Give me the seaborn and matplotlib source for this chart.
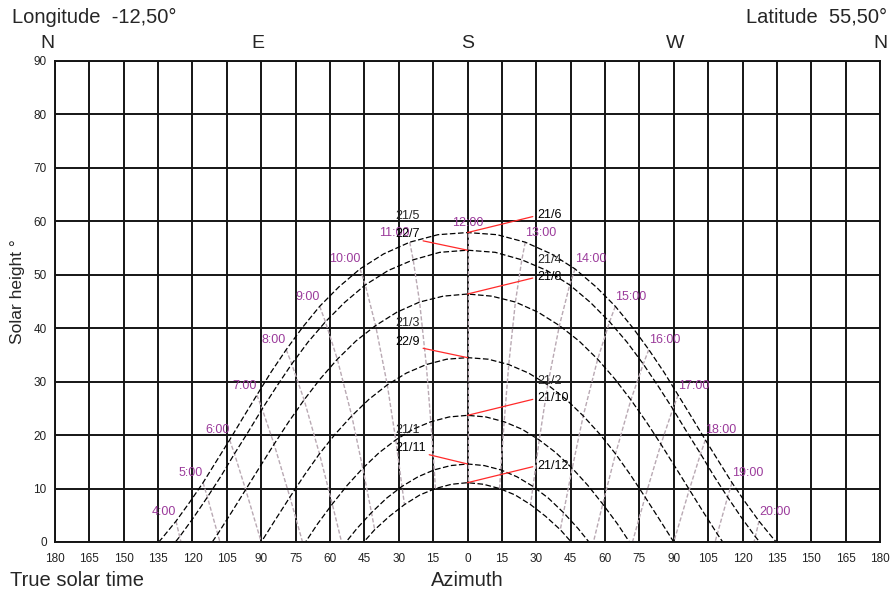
import numpy as np
import pandas as pd
import matplotlib
matplotlib.use("Agg")
import matplotlib.pyplot as plt
import matplotlib.transforms as mtransforms
import seaborn as sns

# ---------------- data ----------------
# sun path per date: azimuth (0 = south, negative = east) and solar height,
# every half hour of true solar time starting at *_t0
jun21_t0 = 3.0
jun21_az = [-139.5, -133.3, -127.2, -121.3, -115.4, -109.6, -103.8, -97.9, -91.9, -85.7,
            -79.1, -72.1, -64.5, -56.2, -46.9, -36.6, -25.2, -12.9, 0.0,
            12.9, 25.2, 36.6, 46.9, 56.2, 64.5, 72.1, 79.1, 85.7, 91.9,
            97.9, 103.8, 109.6, 115.4, 121.3, 127.2, 133.3, 139.5]
jun21_el = [-2.3, 0.7, 3.9, 7.4, 11.1, 15.1, 19.1, 23.3, 27.5, 31.8,
            36.0, 40.1, 44.1, 47.7, 51.1, 53.9, 56.1, 57.5, 57.9,
            57.5, 56.1, 53.9, 51.1, 47.7, 44.1, 40.1, 36.0, 31.8, 27.5,
            23.3, 19.1, 15.1, 11.1, 7.4, 3.9, 0.7, -2.3]

may21_t0 = 3.5
may21_az = [-131.8, -125.6, -119.5, -113.5, -107.6, -101.7, -95.7, -89.6, -83.3,
            -76.7, -69.6, -62.0, -53.7, -44.6, -34.6, -23.7, -12.1, 0.0,
            12.1, 23.7, 34.6, 44.6, 53.7, 62.0, 69.6, 76.7, 83.3,
            89.6, 95.7, 101.7, 107.6, 113.5, 119.5, 125.6, 131.8]
may21_el = [-2.3, 1.0, 4.6, 8.4, 12.3, 16.5, 20.6, 24.9, 29.1,
            33.3, 37.4, 41.2, 44.8, 48.1, 50.8, 52.8, 54.2, 54.6,
            54.2, 52.8, 50.8, 48.1, 44.8, 41.2, 37.4, 33.3, 29.1,
            24.9, 20.6, 16.5, 12.3, 8.4, 4.6, 1.0, -2.3]

apr21_t0 = 4.0
apr21_az = [-121.5, -115.2, -109.0, -102.9, -96.8, -90.7, -84.4, -78.0, -71.3,
            -64.3, -56.8, -48.7, -40.1, -30.8, -20.9, -10.6, 0.0,
            10.6, 20.9, 30.8, 40.1, 48.7, 56.8, 64.3,
            71.3, 78.0, 84.4, 90.7, 96.8, 102.9, 109.0, 115.2, 121.5]
apr21_el = [-6.2, -2.4, 1.5, 5.6, 9.8, 14.0, 18.3, 22.5, 26.6,
            30.5, 34.2, 37.6, 40.5, 43.0, 44.9, 46.0, 46.4,
            46.0, 44.9, 43.0, 40.5, 37.6, 34.2, 30.5,
            26.6, 22.5, 18.3, 14.0, 9.8, 5.6, 1.5, -2.4, -6.2]

mar21_t0 = 5.0
mar21_az = [-102.5, -96.2, -90.0, -83.8, -77.5, -71.2, -64.6, -57.7, -50.5, -43.0,
            -35.0, -26.7, -18.0, -9.1, 0.0, 9.1, 18.0, 26.7, 35.0,
            43.0, 50.5, 57.7, 64.6, 71.2, 77.5, 83.8, 90.0, 96.2, 102.5]
mar21_el = [-8.4, -4.2, 0.0, 4.2, 8.4, 12.5, 16.5, 20.2, 23.6, 26.7,
            29.4, 31.6, 33.2, 34.2, 34.5, 34.2, 33.2, 31.6, 29.4,
            26.7, 23.6, 20.2, 16.5, 12.5, 8.4, 4.2, 0.0, -4.2, -8.4]

feb21_t0 = 7.0
feb21_az = [-71.6, -65.4, -59.0, -52.5, -45.7, -38.6, -31.3, -23.8, -16.0, -8.0, 0.0,
            8.0, 16.0, 23.8, 31.3, 38.6, 45.7, 52.5, 59.0, 65.4, 71.6]
feb21_el = [-0.6, 3.4, 7.1, 10.6, 13.8, 16.7, 19.1, 21.1, 22.5, 23.4, 23.7,
            23.4, 22.5, 21.1, 19.1, 16.7, 13.8, 10.6, 7.1, 3.4, -0.6]

jan21_t0 = 8.0
jan21_az = [-54.5, -48.3, -41.9, -35.3, -28.6, -21.6, -14.5, -7.3, 0.0,
            7.3, 14.5, 21.6, 28.6, 35.3, 41.9, 48.3, 54.5]
jan21_el = [-0.8, 2.5, 5.5, 8.2, 10.4, 12.2, 13.5, 14.3, 14.6,
            14.3, 13.5, 12.2, 10.4, 8.2, 5.5, 2.5, -0.8]

dec21_t0 = 8.5
dec21_az = [-46.7, -40.5, -34.1, -27.5, -20.8, -14.0, -7.0, 0.0,
            7.0, 14.0, 20.8, 27.5, 34.1, 40.5, 46.7]
dec21_el = [-0.7, 2.3, 4.8, 7.0, 8.8, 10.0, 10.8, 11.1,
            10.8, 10.0, 8.8, 7.0, 4.8, 2.3, -0.7]

hour_values = list(range(4, 21))
hour_labels = [f"{h}:00" for h in hour_values]

right_labels = [["21/6"], ["21/4", "21/8"], ["21/2", "21/10"], ["21/12"]]
left_labels = [["21/5", "22/7"], ["21/3", "22/9"], ["21/1", "21/11"]]
x_tick_values = list(range(-180, 181, 15))
x_tick_labels = [str(abs(v)) for v in x_tick_values]
y_tick_values = list(range(0, 91, 10))

# ---------------- build tables ----------------
paths = [
    ("21/6", jun21_t0, jun21_az, jun21_el),
    ("21/5", may21_t0, may21_az, may21_el),
    ("21/4", apr21_t0, apr21_az, apr21_el),
    ("21/3", mar21_t0, mar21_az, mar21_el),
    ("21/2", feb21_t0, feb21_az, feb21_el),
    ("21/1", jan21_t0, jan21_az, jan21_el),
    ("21/12", dec21_t0, dec21_az, dec21_el),
]
frames = []
for order, (name, t0, az, el) in enumerate(paths):
    t = t0 + 0.5 * np.arange(len(az))
    frames.append(pd.DataFrame({"date": name, "order": order, "time": t,
                                "azimuth": az, "height": el}))
df = pd.concat(frames, ignore_index=True)
peaks = df.groupby("date")["height"].max()

# ---------------- figure ----------------
sns.set_style("white")
plt.rcParams["font.family"] = ["Liberation Sans", "DejaVu Sans"]

fig = plt.figure(figsize=(8.94, 5.93), dpi=100)
ax = fig.add_axes([55 / 894, 1 - 542 / 593, 825 / 894, 481 / 593])

grid_c = "#151515"
ax.set_xlim(-180, 180)
ax.set_ylim(0, 90)
ax.set_xticks(x_tick_values)
ax.set_xticklabels(x_tick_labels)
ax.set_yticks(y_tick_values)
ax.grid(True, color=grid_c, lw=1.4)
ax.set_axisbelow(True)
for s in ax.spines.values():
    s.set_color(grid_c)
    s.set_linewidth(1.4)
tick_font = ["Liberation Sans Narrow", "DejaVu Sans Condensed", "Liberation Sans"]
ax.tick_params(axis="both", length=0, labelsize=8.5, colors="#222222")
ax.tick_params(axis="x", pad=8)
ax.tick_params(axis="y", pad=6)
for lab in ax.get_xticklabels() + ax.get_yticklabels():
    lab.set_family(tick_font)
ax.set_xlabel("")
ax.set_ylabel("")

# hour lines (same hour joined across the dates)
hour_c = "#b9a9b3"
for h in hour_values:
    sub = df[np.isclose(df["time"], h)].sort_values("order")
    sns.lineplot(data=sub, x="azimuth", y="height", sort=False, estimator=None,
                 color=hour_c, lw=1.0, linestyle=(0, (3, 1.5)), ax=ax, legend=False)

# sun paths
for name, *_ in paths:
    sub = df[df["date"] == name]
    sns.lineplot(data=sub, x="azimuth", y="height", sort=False, estimator=None,
                 color="black", lw=0.9, linestyle=(0, (4.5, 2)), ax=ax, legend=False)
ax.set_xlabel("")
ax.set_ylabel("")

# hour labels on the 21/6 path
purple = "#9b3b9b"
top = df[df["date"] == "21/6"]
for h, lab in zip(hour_values, hour_labels):
    row = top[np.isclose(top["time"], h)].iloc[0]
    ha = "right" if h < 12 else ("left" if h > 12 else "center")
    ax.annotate(lab, xy=(row["azimuth"], row["height"]), xytext=(0, 2.5),
                textcoords="offset points", ha=ha, va="bottom",
                color=purple, fontsize=9)

# date labels with red leaders
red = "#ff2a2a"
for labs in right_labels:
    pk = peaks[labs[0]]
    y0 = pk + 3.2
    ax.annotate(labs[-1], xy=(0, pk), xytext=(30.5, y0), textcoords="data",
                ha="left", va="center", fontsize=9, color="black",
                arrowprops=dict(arrowstyle="-", color=red, lw=0.9,
                                shrinkA=1, shrinkB=0, relpos=(0, 0.5)))
    if len(labs) == 2:
        ax.text(30.5, y0 + 3.25, labs[0], ha="left", va="center", fontsize=9)
for labs in left_labels:
    pk = peaks[labs[0]]
    y0 = pk + 3.0
    ax.annotate(labs[-1], xy=(0, pk), xytext=(-31.5, y0), textcoords="data",
                ha="left", va="center", fontsize=9, color="black",
                arrowprops=dict(arrowstyle="-", color=red, lw=0.9,
                                shrinkA=0, shrinkB=0, relpos=(1, 0)))
    ax.text(-31.5, y0 + 3.4, labs[0], ha="left", va="center", fontsize=9)

# compass letters
trans = mtransforms.blended_transform_factory(ax.transData, ax.transAxes)
for x, lab in [(-183.5, "N"), (-91.5, "E"), (0, "S"), (90.5, "W"), (180, "N")]:
    ax.text(x, 1 + 17 / 481, lab, transform=trans, ha="center", va="center",
            fontsize=14, clip_on=False)

fig.text(12 / 894, 1 - 17 / 593, "Longitude  -12,50°", ha="left", va="center", fontsize=14.5)
fig.text(887 / 894, 1 - 17 / 593, "Latitude  55,50°", ha="right", va="center", fontsize=14.5)
fig.text(10 / 894, 1 - 580 / 593, "True solar time", ha="left", va="center", fontsize=14.5)
fig.text(467 / 894, 1 - 580 / 593, "Azimuth", ha="center", va="center", fontsize=14.5)
fig.text(18 / 894, 1 - 292 / 593, "Solar height °", ha="center", va="center",
         rotation=90, fontsize=12.5)

fig.savefig("out.png", dpi=100)
